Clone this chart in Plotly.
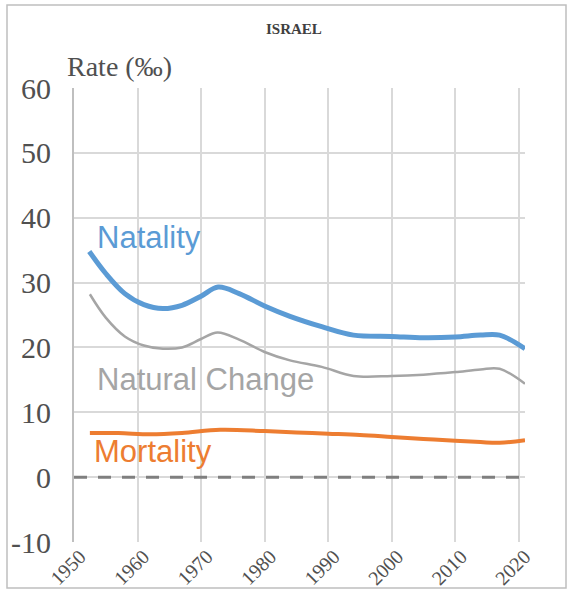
import plotly.graph_objects as go

# values (per mille)
natality_years = [1952.4, 1955, 1958, 1961, 1964, 1967, 1970, 1972.7, 1976, 1980,
                  1984, 1989, 1994, 2000, 2005, 2010, 2014, 2017, 2021]
natality = [34.8, 31.4, 28.3, 26.6, 26.0, 26.5, 27.9, 29.3, 28.3, 26.4,
            24.8, 23.2, 21.9, 21.7, 21.5, 21.6, 21.9, 21.9, 19.8]

natchange_years = [1952.5, 1955, 1958, 1961, 1964, 1967, 1970, 1972.6, 1976, 1980,
                   1984, 1989, 1994, 2000, 2005, 2010, 2014, 2017, 2021]
natchange = [28.2, 24.6, 21.7, 20.3, 19.8, 20.0, 21.3, 22.3, 21.2, 19.3,
             18.0, 17.0, 15.6, 15.6, 15.8, 16.2, 16.6, 16.7, 14.4]

mortality_years = [1952.5, 1957, 1962, 1967, 1973, 1980, 1985, 1990, 1995, 2000,
                   2005, 2010, 2014, 2017, 2021]
mortality = [6.8, 6.8, 6.6, 6.8, 7.3, 7.1, 6.9, 6.7, 6.5, 6.2,
             5.9, 5.6, 5.4, 5.3, 5.7]

x_ticks = [1950, 1960, 1970, 1980, 1990, 2000, 2010, 2020]
y_ticks = [-10, 0, 10, 20, 30, 40, 50, 60]
y_ticktext = ["-10", "0", "10", "20", "30", "40", "50", "60"]

BLUE, GRAY, ORANGE = "#5B9BD5", "#A5A5A5", "#ED7D31"
TEXT = "#505050"
SERIF = "Liberation Serif"
SANS = "Liberation Sans"

FW, FH = 572, 592
L, T, W, H = 74, 88, 451, 454


def px(v):
    return (v - L) / W


def py(v):
    return (T + H - v) / H


fig = go.Figure()
fig.add_trace(go.Scatter(x=natality_years, y=natality, mode="lines",
                         line=dict(color=BLUE, width=5, shape="spline", smoothing=1.0)))
fig.add_trace(go.Scatter(x=natchange_years, y=natchange, mode="lines",
                         line=dict(color=GRAY, width=2.5, shape="spline", smoothing=1.0)))
fig.add_trace(go.Scatter(x=mortality_years, y=mortality, mode="lines",
                         line=dict(color=ORANGE, width=4, shape="spline", smoothing=1.0)))

# dashed zero line
fig.add_shape(type="line", xref="x", yref="y", x0=1950, x1=2021, y0=0, y1=0,
              line=dict(color="#7F7F7F", width=3, dash="13px,11px"), layer="above")

# outer frame of the picture
fig.add_shape(type="rect", xref="paper", yref="paper",
              x0=px(7), x1=px(566), y0=py(588), y1=py(5),
              line=dict(color="#BFBFBF", width=1.5), layer="below")

labels = [("Natality", 1953.3, 36.9, BLUE),
          ("Natural Change", 1953.3, 15.1, GRAY),
          ("Mortality", 1952.8, 3.9, ORANGE)]
for text, x, y, col in labels:
    fig.add_annotation(x=x, y=y, xref="x", yref="y", text=text, showarrow=False,
                       xanchor="left", yanchor="middle",
                       font=dict(family=SANS, size=31, color=col))

fig.add_annotation(x=px(65), y=py(67), xref="paper", yref="paper", text="Rate (‰)",
                   showarrow=False, xanchor="left", yanchor="middle",
                   font=dict(family=SERIF, size=28, color=TEXT))
fig.add_annotation(x=px(294), y=py(29), xref="paper", yref="paper", text="<b>ISRAEL</b>",
                   showarrow=False, xanchor="center", yanchor="middle",
                   font=dict(family=SERIF, size=15, color="#404040"))

fig.update_layout(
    width=FW, height=FH,
    margin=dict(l=L, r=FW - L - W, t=T, b=FH - T - H),
    paper_bgcolor="white", plot_bgcolor="white",
    showlegend=False,
    xaxis=dict(range=[1950, 2021], tickvals=x_ticks, tickangle=-45,
               showgrid=True, gridcolor="#D9D9D9", gridwidth=2,
               showline=False, zeroline=False, ticks="", automargin=False,
               ticklabelstandoff=-2, ticklabelshift=6,
               tickfont=dict(family=SERIF, size=20, color=TEXT)),
    yaxis=dict(range=[-10, 60], tickvals=y_ticks, ticktext=y_ticktext,
               showgrid=True, gridcolor="#D9D9D9", gridwidth=2,
               showline=True, linecolor="#BFBFBF", linewidth=2,
               zeroline=False, ticks="", ticklabelstandoff=15, automargin=False,
               tickfont=dict(family=SERIF, size=30, color=TEXT)),
)

# drop the page's default 8px body margin so the figure sits at the window corner
fig.write_html("out.html", config={"displayModeBar": False},
               post_script="document.body.style.margin='0';")
